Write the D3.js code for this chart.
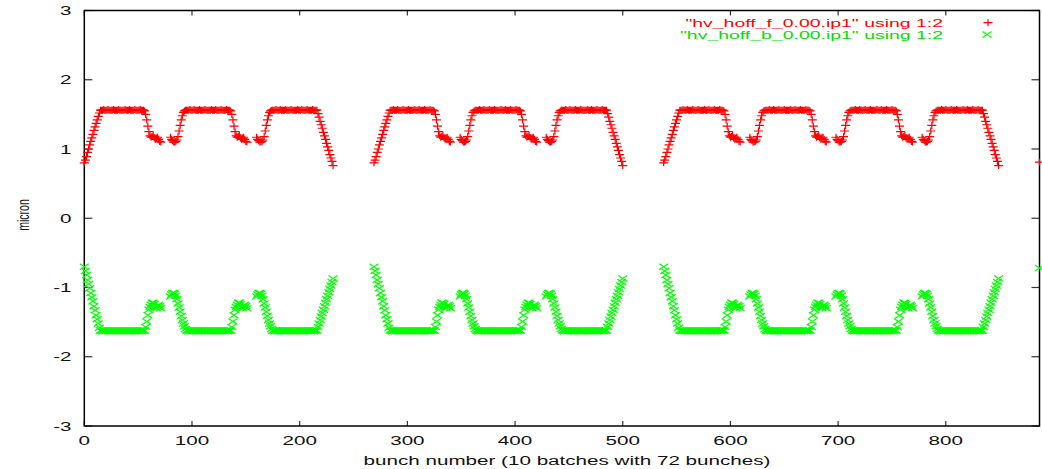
<!DOCTYPE html>
<html><head><meta charset="utf-8">
<script src="https://cdn.jsdelivr.net/npm/d3@7"></script>
<style>html,body{margin:0;padding:0;background:#fff;}svg{display:block;}</style>
</head><body>
<svg id="chart" width="1042" height="469"></svg>
<script>
// ---- data (bunch numbers / micron) ----
const batchStarts = [0, 80, 160, 269, 349, 429, 538, 618, 698, 778];
const batchRoles  = ["first","mid","last","first","mid","last","first","mid","mid","last"];

const redHeadFirst = [0.80,0.84,0.89,0.95,1.00,1.06,1.11,1.16,1.21,1.27,1.32,1.37,1.42,1.47,1.52,1.56];
const redHeadMid   = [1.17,1.14,1.12,1.10,1.10,1.11,1.13,1.18,1.26,1.34,1.42,1.48,1.53,1.55,1.56,1.56];
const redPlateau   = [1.56,1.56,1.57,1.56,1.56,1.56,1.57,1.56,1.56,1.56,1.56,1.57,1.56,1.56,1.56,1.56,1.57,1.56,1.56,1.56,
                      1.56,1.56,1.57,1.56,1.56,1.56,1.57,1.56,1.56,1.56,1.56,1.57,1.56,1.56,1.56,1.56,1.57,1.56,1.56,1.56];
const redTailMid   = [1.55,1.50,1.42,1.33,1.25,1.19,1.17,1.18,1.20,1.16,1.14,1.15,1.17,1.14,1.11,1.10];
const redTailLast  = [1.56,1.51,1.46,1.40,1.35,1.30,1.24,1.19,1.14,1.08,1.03,0.98,0.92,0.87,0.82,0.76];

const greenHeadFirst = [-0.70,-0.76,-0.82,-0.89,-0.95,-1.01,-1.08,-1.14,-1.20,-1.27,-1.33,-1.40,-1.46,-1.52,-1.58,-1.62];
const greenHeadMid   = [-1.13,-1.10,-1.08,-1.08,-1.09,-1.12,-1.17,-1.23,-1.29,-1.35,-1.41,-1.47,-1.52,-1.56,-1.60,-1.62];
const greenPlateau   = [-1.62,-1.63,-1.62,-1.62,-1.63,-1.62,-1.62,-1.63,-1.62,-1.62,-1.63,-1.62,-1.62,-1.63,-1.62,-1.62,-1.63,-1.62,-1.62,-1.63,
                        -1.62,-1.62,-1.63,-1.62,-1.62,-1.63,-1.62,-1.62,-1.63,-1.62,-1.62,-1.63,-1.62,-1.62,-1.63,-1.62,-1.62,-1.63,-1.62,-1.62];
const greenTailMid   = [-1.62,-1.57,-1.49,-1.40,-1.32,-1.28,-1.25,-1.22,-1.22,-1.24,-1.28,-1.30,-1.27,-1.25,-1.27,-1.30];
const greenTailLast  = [-1.62,-1.57,-1.52,-1.47,-1.42,-1.37,-1.32,-1.27,-1.22,-1.17,-1.12,-1.07,-1.02,-0.97,-0.92,-0.87];

const extraBunch = [887];
const extraRed   = [0.81];
const extraGreen = [-0.72];

const xTicks = [0,100,200,300,400,500,600,700,800];
const yTicks = [-3,-2,-1,0,1,2,3];
const legendLabels = ['"hv_hoff_f_0.00.ip1" using 1:2', '"hv_hoff_b_0.00.ip1" using 1:2'];
const xTitle = "bunch number (10 batches with 72 bunches)";
const yTitle = "micron";

// ---- build series from batch profiles ----
function buildSeries(headFirst, headMid, plateau, tailMid, tailLast, extraY){
  const pts = [];
  batchStarts.forEach((b, i) => {
    const role = batchRoles[i];
    const prof = [].concat(role === "first" ? headFirst : headMid, plateau, role === "last" ? tailLast : tailMid);
    prof.forEach((v, k) => pts.push([b + k, v]));
  });
  extraBunch.forEach((b, i) => pts.push([b, extraY[i]]));
  return pts;
}
const redData = buildSeries(redHeadFirst, redHeadMid, redPlateau, redTailMid, redTailLast, extraRed);
const greenData = buildSeries(greenHeadFirst, greenHeadMid, greenPlateau, greenTailMid, greenTailLast, extraGreen);

// ---- layout ----
const svg = d3.select("#chart");
const L = 84.3, R = 1039.5, T = 10.5, B = 426;
const x = d3.scaleLinear().domain([0, 887]).range([L, R]);
const y = d3.scaleLinear().domain([-3, 3]).range([B, T]);
const SX = 1.65; // horizontal stretch of the reference
const FONT = "'Liberation Sans', Arial, Helvetica, sans-serif";

function stext(px, py, str, anchor, size, rot, sx){
  const s = sx || SX;
  return svg.append("text")
    .attr("transform", `translate(${px},${py})` + (rot ? ` rotate(${rot}) scale(1,${s})` : ` scale(${s},1)`))
    .attr("text-anchor", anchor)
    .attr("font-family", FONT)
    .attr("font-size", size)
    .attr("fill", "#111")
    .text(str);
}

// ticks (inward, mirrored)
const tickG = svg.append("g").attr("stroke", "#333").attr("stroke-width", 1.2);
xTicks.forEach(t => {
  const px = x(t);
  tickG.append("line").attr("x1", px).attr("x2", px).attr("y1", B).attr("y2", B - 5);
  tickG.append("line").attr("x1", px).attr("x2", px).attr("y1", T).attr("y2", T + 5);
});
yTicks.forEach(t => {
  const py = y(t);
  tickG.append("line").attr("x1", L).attr("x2", L + 8).attr("y1", py).attr("y2", py);
  tickG.append("line").attr("x1", R).attr("x2", R - 8).attr("y1", py).attr("y2", py);
});

// border
svg.append("rect").attr("x", L).attr("y", T).attr("width", R - L).attr("height", B - T)
  .attr("fill", "none").attr("stroke", "#000").attr("stroke-width", 1.5);

// tick labels
xTicks.forEach(t => stext(x(t), 445, String(t), "middle", 12.5));
yTicks.forEach(t => stext(71.5, y(t) + 4.5, String(t), "end", 12.5));

// axis titles
stext(567, 465, xTitle, "middle", 12.5);
stext(29, 215, yTitle, "middle", 10.5, -90);

// markers
function plusPath(px, py){ const w = 4.5, h = 3.5; return `M${px-w},${py}H${px+w}M${px},${py-h}V${py+h}`; }
function crossPath(px, py){ const w = 4.5, h = 3; return `M${px-w},${py-h}L${px+w},${py+h}M${px-w},${py+h}L${px+w},${py-h}`; }

svg.append("g").selectAll("path").data(redData).join("path")
  .attr("d", d => plusPath(x(d[0]), y(d[1])))
  .attr("stroke", "#ff0000").attr("stroke-width", 1.2).attr("fill", "none");
svg.append("g").selectAll("path").data(greenData).join("path")
  .attr("d", d => crossPath(x(d[0]), y(d[1])))
  .attr("stroke", "#00ff00").attr("stroke-width", 1.2).attr("fill", "none");

// legend
legendLabels.forEach((lab, i) => {
  const ly = 27 + i * 11.5;
  stext(943, ly, lab, "end", 10.8, null, 1.8).attr("fill", i === 0 ? "#ff0000" : "#00e000");
});
svg.append("path").attr("d", plusPath(988, 22.7)).attr("stroke", "#ff0000").attr("stroke-width", 1.2).attr("fill", "none");
svg.append("path").attr("d", crossPath(987, 34.5)).attr("stroke", "#00ff00").attr("stroke-width", 1.2).attr("fill", "none");
</script>
</body></html>
